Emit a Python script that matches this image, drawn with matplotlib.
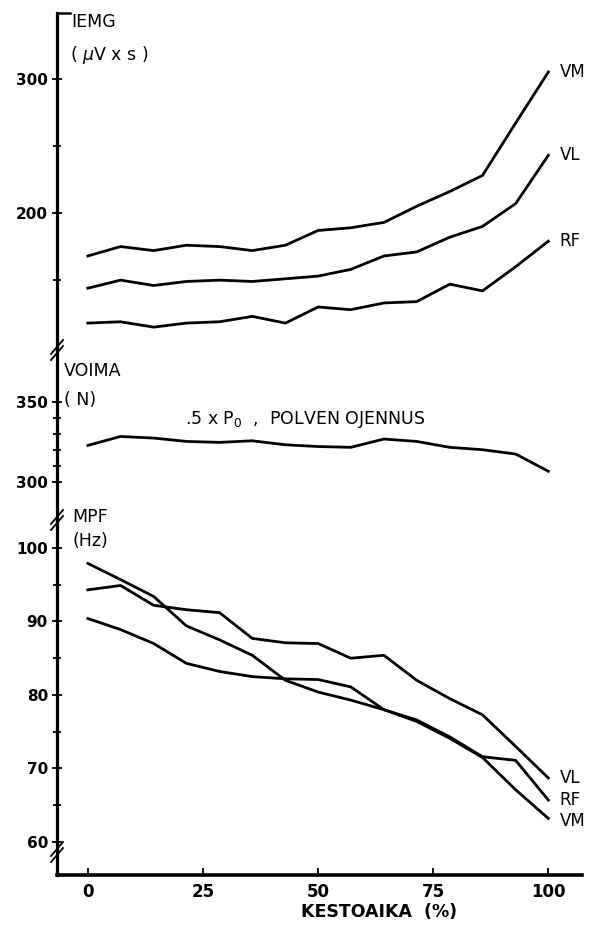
import numpy as np
import matplotlib.pyplot as plt
from matplotlib.lines import Line2D

# Kestoaika (%) - 15 measurement points
time_pct = [0, 7.1, 14.3, 21.4, 28.6, 35.7, 42.9, 50, 57.1, 64.3, 71.4, 78.6, 85.7, 92.9, 100]

# IEMG (uV x s)
iemg_vm = [168, 175, 172, 176, 175, 172, 176, 187, 189, 193, 205, 216, 228, 267, 305]
iemg_vl = [144, 150, 146, 149, 150, 149, 151, 153, 158, 168, 171, 182, 190, 207, 243]
iemg_rf = [118, 119, 115, 118, 119, 123, 118, 130, 128, 133, 134, 147, 142, 160, 179]

# Voima (N)
force = [322.7, 328.3, 327.3, 325.2, 324.6, 325.6, 323.1, 322, 321.5, 326.7, 325.2, 321.5, 320, 317.3, 306.5]

# MPF (Hz)
mpf_vl = [94.3, 94.9, 92.2, 91.6, 91.2, 87.7, 87.1, 87.0, 85.0, 85.4, 82.0, 79.5, 77.3, 73.0, 68.7]
mpf_rf = [90.4, 88.9, 87.0, 84.3, 83.2, 82.5, 82.2, 82.1, 81.1, 78.0, 76.6, 74.3, 71.6, 71.1, 65.7]
mpf_vm = [97.9, 95.7, 93.4, 89.4, 87.5, 85.4, 82.0, 80.4, 79.3, 78.0, 76.4, 74.1, 71.5, 67.1, 63.2]

plt.rcParams["font.family"] = "DejaVu Sans"
fig = plt.figure(figsize=(5.9, 9.3), dpi=100)

left, width = 0.0966, 0.889
ax1 = fig.add_axes([left, 0.6237, width, 0.3624])
ax2 = fig.add_axes([left, 0.4409, width, 0.1828])
ax3 = fig.add_axes([left, 0.0591, width, 0.3817])

lw = 2.0
for ax in (ax1, ax2, ax3):
    ax.set_xlim(-6.7, 107.2)
    ax.patch.set_visible(False)
    for s in ("top", "right"):
        ax.spines[s].set_visible(False)
    ax.spines["left"].set_linewidth(2.3)
    ax.tick_params(axis="y", which="both", direction="inout", width=1.3,
                   labelsize=11, pad=3)
    ax.tick_params(axis="y", which="major", length=7)
    ax.tick_params(axis="y", which="minor", length=6)

for ax in (ax1, ax2):
    ax.spines["bottom"].set_visible(False)
    ax.set_xticks([])

# IEMG panel
ax1.plot(time_pct, iemg_vm, color="black", lw=lw)
ax1.plot(time_pct, iemg_vl, color="black", lw=lw)
ax1.plot(time_pct, iemg_rf, color="black", lw=lw)
ax1.set_ylim(98, 349)
ax1.set_yticks([200, 300])
ax1.set_yticks([150, 250], minor=True)
ax1.text(-3.5, 342.5, "IEMG", fontsize=12.5, va="center")
ax1.text(-3.8, 318, r"( $\mu$V x s )", fontsize=12.5, va="center")
ax1.text(102.5, iemg_vm[-1], "VM", fontsize=12, va="center")
ax1.text(102.5, iemg_vl[-1], "VL", fontsize=12, va="center")
ax1.text(102.5, iemg_rf[-1], "RF", fontsize=12, va="center")
ax1.plot([0, 0.025], [1, 1], transform=ax1.transAxes, color="black", lw=1.8, clip_on=False)

# VOIMA panel
ax2.plot(time_pct, force, color="black", lw=lw)
ax2.set_ylim(276, 382.5)
ax2.set_yticks([300, 350])
ax2.set_yticks([310, 320, 330, 340], minor=True)
ax2.text(-5.2, 369.4, "VOIMA", fontsize=12.5, va="center")
ax2.text(-5.2, 351, "( N)", fontsize=12.5, va="center")
ax2.text(21.0, 338.75, r".5 x P$_0$  ,  POLVEN OJENNUS", fontsize=12.5, va="center")

# MPF panel
ax3.plot(time_pct, mpf_vl, color="black", lw=lw)
ax3.plot(time_pct, mpf_rf, color="black", lw=lw)
ax3.plot(time_pct, mpf_vm, color="black", lw=lw)
ax3.set_ylim(55.5, 103.8)
ax3.set_yticks([60, 70, 80, 90, 100])
ax3.set_yticks([65, 75, 85, 95], minor=True)
ax3.set_xticks([0, 25, 50, 75, 100])
ax3.tick_params(axis="x", direction="in", length=5, width=1.3, labelsize=12, pad=6)
ax3.spines["bottom"].set_linewidth(2.6)
ax3.text(-3.3, 104.2, "MPF", fontsize=12.5, va="center", clip_on=False)
ax3.text(-3.3, 101.0, "(Hz)", fontsize=12.5, va="center")
ax3.text(102.5, mpf_vl[-1], "VL", fontsize=12, va="center")
ax3.text(102.5, mpf_rf[-1], "RF", fontsize=12, va="center")
ax3.text(102.5, mpf_vm[-1] - 0.4, "VM", fontsize=12, va="center")
ax3.text(63.3, -0.105, "KESTOAIKA  (%)", fontsize=12.5, fontweight="bold",
         ha="center", va="center", transform=ax3.get_xaxis_transform())

for ax in (ax1, ax2, ax3):
    for t in ax.get_yticklabels() + ax.get_xticklabels():
        t.set_fontweight("bold")

# axis break marks on the left spine
def break_mark(py):
    x0 = left * 590
    y0 = 930 - py
    for dy in (-3, 3):
        fig.add_artist(Line2D([(x0 - 6) / 590, (x0 + 6) / 590],
                              [(y0 - 7 + dy) / 930, (y0 + 7 + dy) / 930],
                              transform=fig.transFigure, color="black", lw=1.3))

for py in (350, 520, 852):
    break_mark(py)

fig.savefig("out.png", dpi=100)
